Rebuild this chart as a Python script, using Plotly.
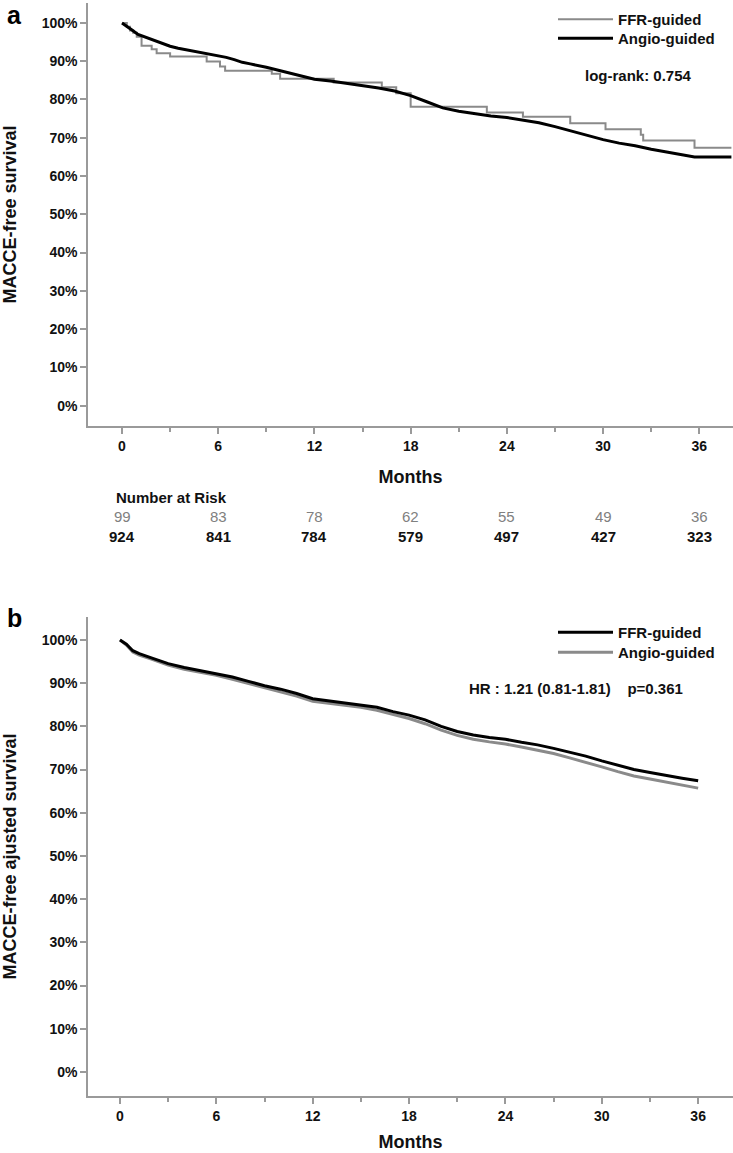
import plotly.graph_objects as go

# ---------------- data ----------------
months_ticks = [0, 6, 12, 18, 24, 30, 36]
minor_ticks = [3, 9, 15, 21, 27, 33]
pct_ticks = [0, 10, 20, 30, 40, 50, 60, 70, 80, 90, 100]
pct_labels = [f"{v}%" for v in pct_ticks]

# Panel a: Kaplan-Meier MACCE-free survival
ffr_a_t = [0, 0.3, 0.5, 0.7, 0.92, 1.22, 1.85, 2.16, 3.0, 5.28, 6.11, 6.43, 9.34, 9.86,
           13.2, 16.2, 17.1, 18.0, 22.75, 25.0, 27.95, 30.15, 32.35, 32.5, 35.7, 38.0]
ffr_a_s = [100, 99.0, 98.0, 97.4, 96.4, 94.0, 93.1, 92.1, 91.2, 89.9, 88.6, 87.5, 86.7, 85.4,
           84.4, 83.2, 81.6, 78.1, 76.6, 75.5, 73.8, 72.2, 70.8, 69.3, 67.4, 67.4]

angio_a_t = [0, 0.3, 0.6, 1.0, 1.5, 2.0, 2.5, 3.0, 3.5, 4.0, 4.5, 5.0, 5.5, 6.0, 6.5, 7.0,
             7.5, 8.0, 8.5, 9.0, 9.5, 10, 10.5, 11, 11.5, 12, 13, 14, 15, 16, 17, 18, 19,
             20, 21, 22, 23, 24, 25, 26, 27, 28, 29, 30, 31, 32, 33, 34, 35, 35.7, 38]
angio_a_s = [100, 99.2, 98.2, 97.0, 96.2, 95.3, 94.5, 93.9, 93.4, 93.0, 92.5, 92.1, 91.7,
             91.4, 91.0, 90.4, 89.7, 89.3, 88.9, 88.4, 87.9, 87.4, 86.9, 86.3, 85.8, 85.3,
             84.8, 84.2, 83.6, 83.0, 82.2, 81.0, 79.4, 77.8, 76.9, 76.2, 75.7, 75.3, 74.6,
             73.9, 72.9, 71.7, 70.6, 69.5, 68.6, 67.9, 67.0, 66.3, 65.6, 65.0, 65.0]

risk_ffr = [99, 83, 78, 62, 55, 49, 36]
risk_angio = [924, 841, 784, 579, 497, 427, 323]

# Panel b: adjusted survival
adj_t = [0, 0.4, 0.8, 1.2, 2, 3, 4, 5, 6, 7, 8, 9, 10, 11, 12, 13, 14, 15, 16, 17, 18,
         19, 20, 21, 22, 23, 24, 25, 26, 27, 28, 29, 30, 31, 32, 33, 34, 35, 36]
ffr_b_s = [100, 99.0, 97.5, 96.8, 95.8, 94.5, 93.6, 92.9, 92.2, 91.4, 90.4, 89.4, 88.6,
           87.6, 86.4, 85.9, 85.5, 85.0, 84.4, 83.4, 82.6, 81.5, 80.0, 78.8, 78.0, 77.4,
           77.0, 76.3, 75.7, 74.9, 74.0, 73.1, 72.0, 71.0, 70.0, 69.3, 68.6, 68.0, 67.4]
angio_b_s = [100, 98.8, 97.2, 96.5, 95.5, 94.2, 93.2, 92.5, 91.8, 90.9, 89.9, 88.9, 88.0,
             87.0, 85.8, 85.3, 84.9, 84.4, 83.7, 82.7, 81.8, 80.6, 79.1, 77.9, 77.0, 76.4,
             75.9, 75.2, 74.5, 73.7, 72.7, 71.7, 70.6, 69.5, 68.5, 67.8, 67.1, 66.4, 65.7]

# ---------------- styling ----------------
W, H = 733, 1153
FONT = "Liberation Sans, Arial, Helvetica, sans-serif"
GRAY = "#8a8a8a"
AXC = "#9a9a9a"


def px_x(p):
    return p / W


def px_y(p):
    return 1 - p / H


fig = go.Figure()

# Panel a traces
fig.add_trace(go.Scatter(x=ffr_a_t, y=ffr_a_s, mode="lines", line=dict(color=GRAY, width=2, shape="hv"),
                         name="FFR-guided", xaxis="x", yaxis="y", legend="legend"))
fig.add_trace(go.Scatter(x=angio_a_t, y=angio_a_s, mode="lines", line=dict(color="black", width=3),
                         name="Angio-guided", xaxis="x", yaxis="y", legend="legend3"))

# Panel b traces
fig.add_trace(go.Scatter(x=adj_t, y=angio_b_s, mode="lines", line=dict(color=GRAY, width=3),
                         name="Angio-guided", xaxis="x2", yaxis="y2", legend="legend4"))
fig.add_trace(go.Scatter(x=adj_t, y=ffr_b_s, mode="lines", line=dict(color="black", width=3),
                         name="FFR-guided", xaxis="x2", yaxis="y2", legend="legend2"))

tickfont = dict(family=FONT, size=14, color="#111", weight="bold")
titlefont = dict(family=FONT, size=18, color="#111", weight="bold")

xcommon = dict(tickmode="array", tickvals=months_ticks, ticks="outside", ticklen=6, tickwidth=1.5,
               tickcolor=AXC, showline=True, linecolor=AXC, linewidth=1.5, showgrid=False,
               zeroline=False, tickfont=tickfont, automargin=False,
               minor=dict(tickmode="array", tickvals=minor_ticks, ticks="outside", ticklen=4,
                          tickwidth=1.5, tickcolor=AXC, showgrid=False))
ycommon = dict(tickmode="array", tickvals=pct_ticks, ticktext=pct_labels, ticks="outside", ticklen=6,
               tickwidth=1.5, tickcolor=AXC, showline=True, linecolor=AXC, linewidth=1.5,
               showgrid=False, zeroline=False, tickfont=tickfont, automargin=False)

legfont = dict(family=FONT, size=15, color="#111", weight="bold")


def leg(top_px):
    return dict(x=px_x(553), y=px_y(top_px), xanchor="left", yanchor="top",
                bgcolor="rgba(0,0,0,0)", font=legfont, itemwidth=55)


fig.update_layout(
    width=W, height=H, margin=dict(l=0, r=0, t=0, b=0),
    paper_bgcolor="white", plot_bgcolor="white",
    font=dict(family=FONT, color="#111"),
    xaxis=dict(xcommon, domain=[px_x(88), 1.0], range=[-2.12, 38.1], anchor="y",
               title=dict(text="Months", font=titlefont, standoff=18)),
    yaxis=dict(ycommon, domain=[px_y(426), px_y(3)], range=[-5.3, 105.2], anchor="x",
               title=dict(text="MACCE-free survival", font=titlefont, standoff=20)),
    xaxis2=dict(xcommon, domain=[px_x(88), 1.0], range=[-1.99, 38.17], anchor="y2",
                title=dict(text="Months", font=titlefont, standoff=13)),
    yaxis2=dict(ycommon, domain=[px_y(1096), px_y(617)], range=[-5.56, 105.3], anchor="x2",
                title=dict(text="MACCE-free ajusted survival", font=titlefont, standoff=20)),
    legend=leg(3),
    legend3=leg(22),
    legend2=leg(616),
    legend4=leg(636),
    showlegend=True,
)


def note(text, x, y, size=15, color="#111", bold=True, xanchor="center", xref="paper"):
    f = dict(family=FONT, size=size, color=color)
    if bold:
        f["weight"] = "bold"
    return dict(text=text, x=x, y=y, xref=xref, yref="paper", showarrow=False,
                xanchor=xanchor, yanchor="middle", font=f)


ann = [
    note("a", px_x(14), px_y(15), size=25, color="black"),
    note("b", px_x(14), px_y(618), size=25, color="black"),
    note("log-rank: 0.754", px_x(638), px_y(76)),
    note("HR : 1.21 (0.81-1.81)\u00a0\u00a0\u00a0\u00a0p=0.361", px_x(576), px_y(688)),
    note("Number at Risk", px_x(114), px_y(497), xanchor="left"),
]
for t, a, b in zip(months_ticks, risk_ffr, risk_angio):
    ann.append(note(str(a), t, px_y(516), color="#808080", bold=False, xref="x"))
    ann.append(note(str(b), t, px_y(536), xref="x"))
fig.update_layout(annotations=ann)

fig.write_html("out.html", config={"displayModeBar": False},
               post_script="document.body.style.margin='0';document.body.style.overflow='hidden';")
